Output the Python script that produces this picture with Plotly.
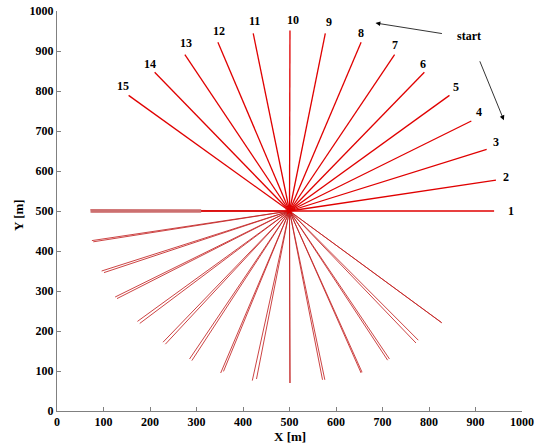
import plotly.graph_objects as go

# centre of the star
center_x = 500
center_y = 500

# upper (numbered) lines: end points
upper_x = [940, 944, 924, 891, 844, 790, 726, 654, 577, 501, 422, 346, 275, 210, 154]
upper_y = [500, 577, 654, 725, 789, 847, 891, 922, 944, 951, 944, 922, 891, 847, 789]
upper_labels = [str(i) for i in range(1, 16)]
label_x = [977, 966, 945, 908, 857, 787, 727, 654, 585, 507, 425, 348, 278, 199, 141]
label_y = [500, 585, 672, 747, 809, 868, 916, 945, 973, 977, 976, 950, 920, 867, 812]

# lower (return) lines: two nearly parallel tracks per direction
lower_x1 = [72, 75, 96, 125, 173, 228, 285, 352, 420, 501, 571, 654, 711, 772, 826]
lower_y1 = [503, 426, 350, 285, 224, 172, 130, 95, 76, 70, 78, 95, 127, 170, 222]
lower_x2 = [74, 78, 101, 129, 178, 233, 290, 358, 429, 501, 576, 656, 715, 777, 828]
lower_y2 = [498, 423, 346, 281, 219, 167, 126, 99, 80, 70, 78, 97, 130, 177, 220]

# thick pale band on the west line
band_x = [310, 72]
band_y = [500, 500]

x_ticks = [0, 100, 200, 300, 400, 500, 600, 700, 800, 900, 1000]
y_ticks = [0, 100, 200, 300, 400, 500, 600, 700, 800, 900, 1000]

RED = "#e00000"
PALE = "rgba(195,35,35,0.85)"
FONT = "Liberation Serif"

fig = go.Figure()

# lower double tracks
for xs, ys in ((lower_x1, lower_y1), (lower_x2, lower_y2)):
    px, py = [], []
    for x, y in zip(xs, ys):
        px += [center_x, x, None]
        py += [center_y, y, None]
    fig.add_trace(go.Scatter(x=px, y=py, mode="lines",
                             line=dict(color=PALE, width=1), hoverinfo="skip"))

fig.add_trace(go.Scatter(x=band_x, y=band_y, mode="lines",
                         line=dict(color="#cc7070", width=3.5), hoverinfo="skip"))
fig.add_trace(go.Scatter(x=[center_x, band_x[0]], y=[center_y, band_y[0]], mode="lines",
                         line=dict(color=RED, width=1.5), hoverinfo="skip"))

# upper numbered lines
px, py = [], []
for x, y in zip(upper_x, upper_y):
    px += [center_x, x, None]
    py += [center_y, y, None]
fig.add_trace(go.Scatter(x=px, y=py, mode="lines",
                         line=dict(color=RED, width=1.3), hoverinfo="skip"))

fig.add_trace(go.Scatter(x=[center_x], y=[center_y], mode="markers",
                         marker=dict(color=RED, size=7, symbol="star"), hoverinfo="skip"))

# labels
for t, x, y in zip(upper_labels, label_x, label_y):
    fig.add_annotation(x=x, y=y, text=t, showarrow=False,
                       font=dict(family=FONT, size=12, color="black", weight="bold"))

fig.add_annotation(x=885, y=938, text="start", showarrow=False,
                   font=dict(family=FONT, size=12, color="black", weight="bold"))
fig.add_annotation(x=685, y=970, ax=831, ay=943, axref="x", ayref="y", xref="x", yref="y",
                   text="", showarrow=True, arrowhead=2, arrowsize=1.2, arrowwidth=0.8,
                   arrowcolor="black")
fig.add_annotation(x=961, y=727, ax=908, ay=878, axref="x", ayref="y", xref="x", yref="y",
                   text="", showarrow=True, arrowhead=2, arrowsize=1.2, arrowwidth=0.8,
                   arrowcolor="black")

# axis titles
title_font = dict(family=FONT, size=13, color="black", weight="bold")
fig.add_annotation(x=500, y=-0.064, xref="x", yref="paper", text="X [m]",
                   xanchor="center", yanchor="middle",
                   showarrow=False, font=title_font)
fig.add_annotation(x=-0.084, y=0.49, xref="paper", yref="paper", text="Y [m]",
                   xanchor="center", yanchor="middle",
                   showarrow=False, textangle=-90, font=title_font)

axis_common = dict(showgrid=False, zeroline=False, showline=True, linecolor="#808080",
                   linewidth=1, ticks="inside", ticklen=4, tickcolor="#808080",
                   tickfont=dict(family=FONT, size=12, color="black", weight="bold"),
                   range=[0, 1000], automargin=False)

fig.update_layout(
    width=540, height=444,
    margin=dict(l=57, r=18, t=11, b=33),
    paper_bgcolor="white", plot_bgcolor="white",
    showlegend=False,
    xaxis=dict(tickvals=x_ticks, **axis_common),
    yaxis=dict(tickvals=y_ticks, **axis_common),
)

fig.write_html("out.html", config={"displayModeBar": False},
               post_script="document.body.style.margin='0';")
